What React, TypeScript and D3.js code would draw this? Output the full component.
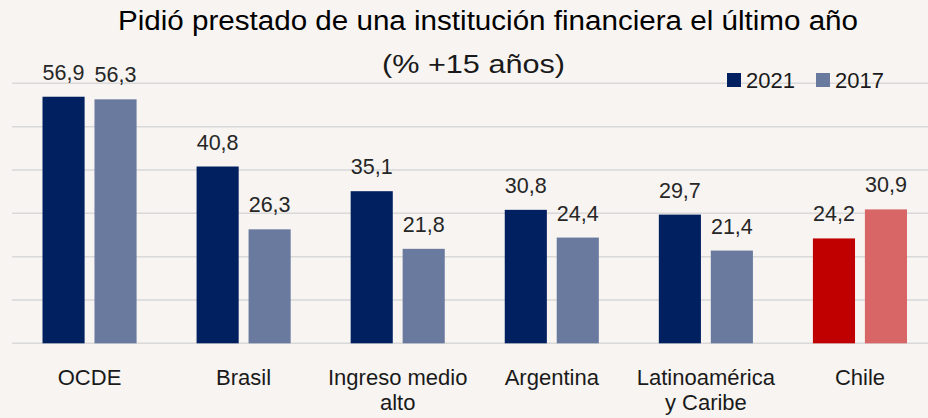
import React, { useRef, useEffect } from 'react';
import * as d3 from 'd3';

const categories = ['OCDE', 'Brasil', 'Ingreso medio alto', 'Argentina', 'Latinoamérica y Caribe', 'Chile'];
const categoryLines = [['OCDE'], ['Brasil'], ['Ingreso medio', 'alto'], ['Argentina'], ['Latinoamérica', 'y Caribe'], ['Chile']];
const series2021 = [56.9, 40.8, 35.1, 30.8, 29.7, 24.2];
const series2017 = [56.3, 26.3, 21.8, 24.4, 21.4, 30.9];
const seriesNames = ['2021', '2017'];
const gridTicks = [0, 10, 20, 30, 40, 50, 60];

export default function App() {
  const ref = useRef<SVGSVGElement>(null);

  useEffect(() => {
    const svg = d3.select(ref.current);
    svg.selectAll('*').remove();

    const width = 928;
    const height = 418;
    const bg = '#f7f4f1';
    const font = '"Liberation Sans", Arial, Helvetica, sans-serif';

    svg.append('rect').attr('width', width).attr('height', height).attr('fill', bg);

    const x = d3.scaleBand().domain(categories).range([12.5, 937]);
    const inner = d3.scaleBand().domain(seriesNames).range([30, x.bandwidth() - 30]).paddingInner(0.19);
    const y = d3.scaleLinear().domain([0, 60]).range([343.3, 83.3]);

    // grid
    svg.append('g')
      .selectAll('line')
      .data(gridTicks)
      .join('line')
      .attr('x1', 12)
      .attr('x2', width)
      .attr('y1', d => y(d))
      .attr('y2', d => y(d))
      .attr('stroke', '#d9d9d9')
      .attr('stroke-width', 1.5);

    const colors = (cat: string, s: string) => {
      if (cat === 'Chile') return s === '2021' ? '#c00000' : '#d96666';
      return s === '2021' ? '#002060' : '#697a9e';
    };

    const rows = categories.map((c, i) => ({ cat: c, vals: [series2021[i], series2017[i]] }));

    const groups = svg.append('g')
      .selectAll('g')
      .data(rows)
      .join('g')
      .attr('transform', d => `translate(${x(d.cat)},0)`);

    groups.selectAll('rect')
      .data(d => seriesNames.map((s, j) => ({ cat: d.cat, s, v: d.vals[j] })))
      .join('rect')
      .attr('x', d => inner(d.s)!)
      .attr('width', inner.bandwidth())
      .attr('y', d => y(d.v))
      .attr('height', d => y(0) - y(d.v))
      .attr('fill', d => colors(d.cat, d.s));

    groups.selectAll('text.val')
      .data(d => seriesNames.map((s, j) => ({ s, v: d.vals[j] })))
      .join('text')
      .attr('class', 'val')
      .attr('x', d => inner(d.s)! + inner.bandwidth() / 2)
      .attr('y', d => y(d.v) - 17)
      .attr('text-anchor', 'middle')
      .attr('font-family', font)
      .attr('font-size', 21.5)
      .attr('fill', '#262626')
      .text(d => d3.format('.1f')(d.v).replace('.', ','));

    // category labels
    const labels = svg.append('g')
      .selectAll('text')
      .data(categories)
      .join('text')
      .attr('x', d => x(d)! + x.bandwidth() / 2)
      .attr('y', 385)
      .attr('text-anchor', 'middle')
      .attr('font-family', font)
      .attr('font-size', 22)
      .attr('fill', '#1a1a1a');
    labels.each(function (d, i) {
      d3.select(this)
        .selectAll('tspan')
        .data(categoryLines[i])
        .join('tspan')
        .attr('x', x(d)! + x.bandwidth() / 2)
        .attr('dy', (_, k) => (k === 0 ? 0 : 25))
        .text(t => t);
    });

    // title
    svg.append('text')
      .attr('x', 118)
      .attr('y', 30)
      .attr('font-family', font)
      .attr('font-size', 27)
      .attr('textLength', 740)
      .attr('lengthAdjust', 'spacingAndGlyphs')
      .attr('fill', '#000')
      .text('Pidió prestado de una institución financiera el último año');
    svg.append('text')
      .attr('x', 382)
      .attr('y', 73)
      .attr('font-family', font)
      .attr('font-size', 25)
      .attr('textLength', 183)
      .attr('lengthAdjust', 'spacingAndGlyphs')
      .attr('fill', '#1a1a1a')
      .text('(% +15 años)');

    // legend
    const legend = svg.append('g').attr('transform', 'translate(727,73)');
    const lx = [0, 89];
    seriesNames.forEach((s, j) => {
      legend.append('rect')
        .attr('x', lx[j])
        .attr('y', 0)
        .attr('width', 14)
        .attr('height', 14)
        .attr('fill', colors('', s));
      legend.append('text')
        .attr('x', lx[j] + 19)
        .attr('y', 15)
        .attr('font-family', font)
        .attr('font-size', 22)
        .attr('fill', '#1a1a1a')
        .text(s);
    });
  }, []);

  return (
    <svg
      ref={ref}
      width={928}
      height={418}
      style={{ position: 'absolute', left: 0, top: 0, display: 'block' }}
    />
  );
}
